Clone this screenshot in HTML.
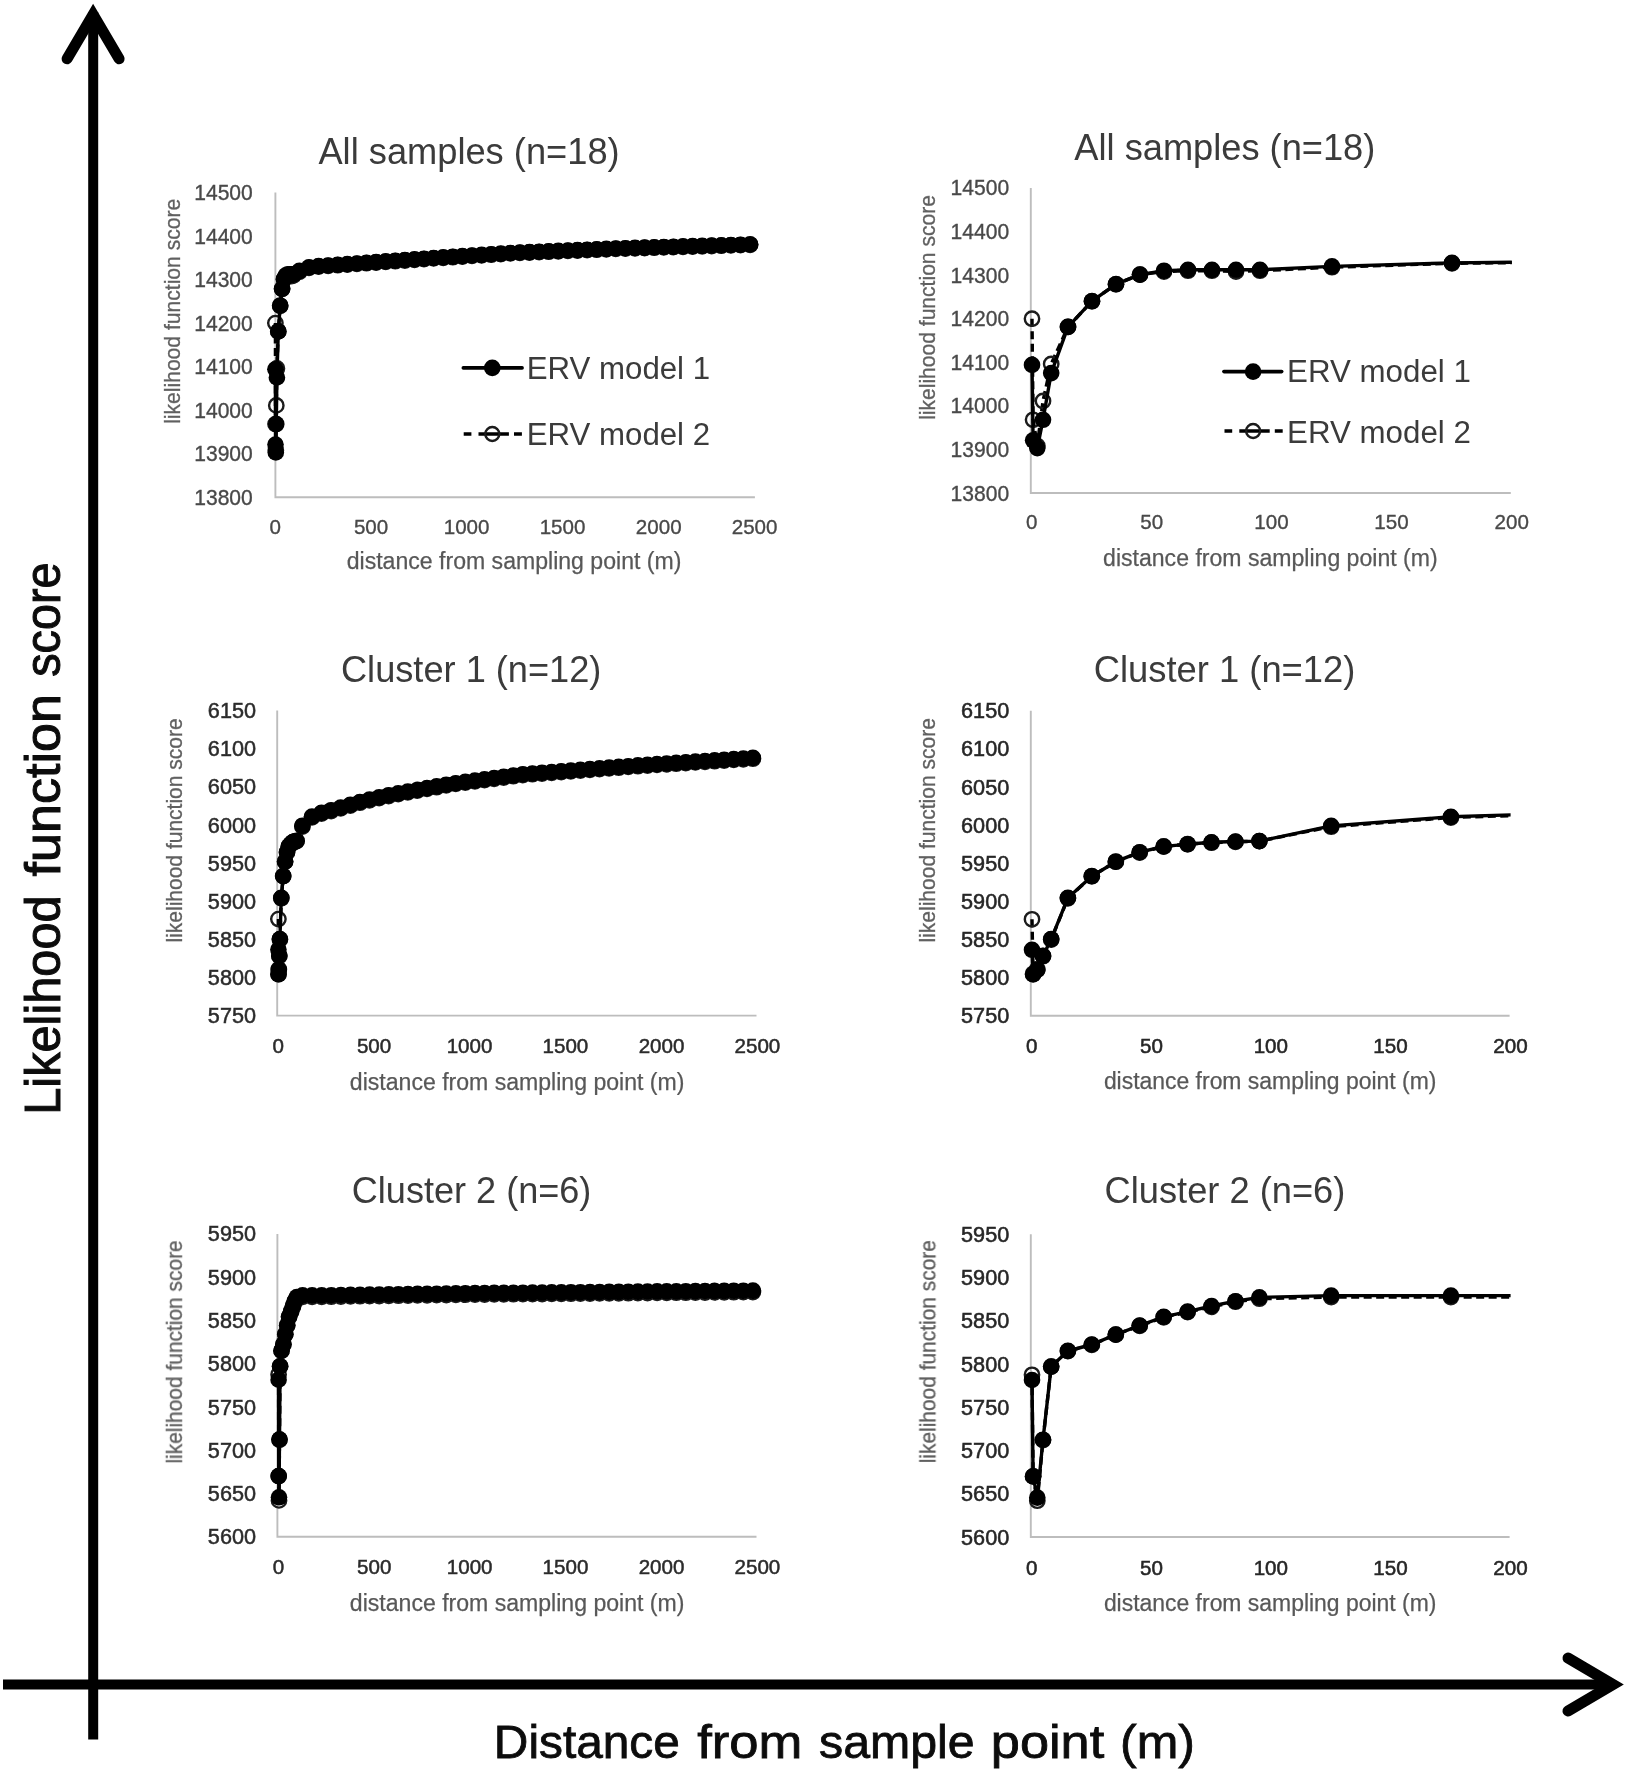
<!DOCTYPE html>
<html lang="en"><head><meta charset="utf-8"><title>Likelihood function score vs distance from sample point</title>
<style>html,body{margin:0;padding:0;background:#fff}body{width:1628px;height:1772px;overflow:hidden}svg{display:block}text{font-family:'Liberation Sans',sans-serif}</style>
</head><body>
<svg width="1628" height="1772" viewBox="0 0 1628 1772" role="img" aria-label="Likelihood function score versus distance from sample point">
<rect width="1628" height="1772" fill="#fff"/>
<defs><filter id="soft" x="-2%" y="-2%" width="104%" height="104%"><feGaussianBlur stdDeviation="0.7"/></filter></defs>
<g id="charts" filter="url(#soft)">
<g id="panel1">
<path d="M275.4 192.6V497.2H754.9" fill="none" stroke="#bdbdbd" stroke-width="1.9"/>
<text x="318.40" y="163.90" font-size="36" fill="#3a3a3a" textLength="301.25" lengthAdjust="spacingAndGlyphs">All samples (n=18)</text>
<text x="194.26" y="200.17" font-size="22" fill="#484848" textLength="58.55" lengthAdjust="spacingAndGlyphs" stroke="#484848" stroke-width="0.35">14500</text>
<text x="194.26" y="243.68" font-size="22" fill="#484848" textLength="58.55" lengthAdjust="spacingAndGlyphs" stroke="#484848" stroke-width="0.35">14400</text>
<text x="194.26" y="287.20" font-size="22" fill="#484848" textLength="58.55" lengthAdjust="spacingAndGlyphs" stroke="#484848" stroke-width="0.35">14300</text>
<text x="194.26" y="330.71" font-size="22" fill="#484848" textLength="58.55" lengthAdjust="spacingAndGlyphs" stroke="#484848" stroke-width="0.35">14200</text>
<text x="194.26" y="374.23" font-size="22" fill="#484848" textLength="58.55" lengthAdjust="spacingAndGlyphs" stroke="#484848" stroke-width="0.35">14100</text>
<text x="194.26" y="417.74" font-size="22" fill="#484848" textLength="58.55" lengthAdjust="spacingAndGlyphs" stroke="#484848" stroke-width="0.35">14000</text>
<text x="194.26" y="461.25" font-size="22" fill="#484848" textLength="58.55" lengthAdjust="spacingAndGlyphs" stroke="#484848" stroke-width="0.35">13900</text>
<text x="194.26" y="504.77" font-size="22" fill="#484848" textLength="58.55" lengthAdjust="spacingAndGlyphs" stroke="#484848" stroke-width="0.35">13800</text>
<text x="269.49" y="533.72" font-size="21" fill="#484848" textLength="11.45" lengthAdjust="spacingAndGlyphs" stroke="#484848" stroke-width="0.35">0</text>
<text x="353.92" y="533.72" font-size="21" fill="#484848" textLength="34.34" lengthAdjust="spacingAndGlyphs" stroke="#484848" stroke-width="0.35">500</text>
<text x="443.74" y="533.72" font-size="21" fill="#484848" textLength="45.78" lengthAdjust="spacingAndGlyphs" stroke="#484848" stroke-width="0.35">1000</text>
<text x="539.64" y="533.72" font-size="21" fill="#484848" textLength="45.78" lengthAdjust="spacingAndGlyphs" stroke="#484848" stroke-width="0.35">1500</text>
<text x="635.80" y="533.72" font-size="21" fill="#484848" textLength="45.78" lengthAdjust="spacingAndGlyphs" stroke="#484848" stroke-width="0.35">2000</text>
<text x="731.70" y="533.72" font-size="21" fill="#484848" textLength="45.78" lengthAdjust="spacingAndGlyphs" stroke="#484848" stroke-width="0.35">2500</text>
<text x="346.68" y="569.40" font-size="23" fill="#585858" textLength="334.73" lengthAdjust="spacingAndGlyphs" stroke="#585858" stroke-width="0.25">distance from sampling point (m)</text>
<text transform="translate(180.10 422.50) rotate(-90)" x="-1.37" y="0" font-size="21.3" fill="#606060" textLength="225.08" lengthAdjust="spacingAndGlyphs" stroke="#606060" stroke-width="0.3">likelihood function score</text>
<clipPath id="clip0"><rect x="263.4" y="180.6" width="519.5" height="328.6"/></clipPath>
<g clip-path="url(#clip0)">
<polyline points="275.4,323.1 275.5,424.1 275.8,450.2 276.3,405.4 276.9,368.4 278.3,331.4 280.2,305.7 282.1,288.8 284.0,279.2 285.9,276.1 287.9,275.3 289.8,275.3 291.7,276.1 293.6,275.3 299.4,271.8 309.0,267.9 318.6,266.6 328.1,265.9 337.7,265.2 347.3,264.6 356.9,263.9 366.5,263.2 376.1,262.5 385.7,261.8 395.3,261.2 404.9,260.5 414.5,259.8 424.0,259.1 433.6,258.4 443.2,257.8 452.8,257.2 462.4,256.6 472.0,255.9 481.6,255.3 491.2,254.7 500.8,254.1 510.4,253.4 519.9,252.9 529.5,252.5 539.1,252.1 548.7,251.7 558.3,251.3 567.9,250.9 577.5,250.5 587.1,250.1 596.7,249.7 606.3,249.3 615.8,248.9 625.4,248.6 635.0,248.3 644.6,248.0 654.2,247.7 663.8,247.4 673.4,247.1 683.0,246.9 692.6,246.6 702.2,246.3 711.7,246.0 721.3,245.7 730.9,245.4 740.5,245.1 750.1,244.8" fill="none" stroke="#000" stroke-width="3.4" stroke-dasharray="8 4.5" stroke-linejoin="round"/>
<g fill="none" stroke="#1a1a1a" stroke-width="2.4">
<circle cx="275.4" cy="323.1" r="7.2"/>
<circle cx="275.5" cy="424.1" r="7.2"/>
<circle cx="275.8" cy="450.2" r="7.2"/>
<circle cx="276.3" cy="405.4" r="7.2"/>
<circle cx="276.9" cy="368.4" r="7.2"/>
<circle cx="278.3" cy="331.4" r="7.2"/>
<circle cx="280.2" cy="305.7" r="7.2"/>
<circle cx="282.1" cy="288.8" r="7.2"/>
<circle cx="284.0" cy="279.2" r="7.2"/>
<circle cx="285.9" cy="276.1" r="7.2"/>
<circle cx="287.9" cy="275.3" r="7.2"/>
<circle cx="289.8" cy="275.3" r="7.2"/>
<circle cx="291.7" cy="276.1" r="7.2"/>
<circle cx="293.6" cy="275.3" r="7.2"/>
<circle cx="299.4" cy="271.8" r="7.2"/>
<circle cx="309.0" cy="267.9" r="7.2"/>
<circle cx="318.6" cy="266.6" r="7.2"/>
<circle cx="328.1" cy="265.9" r="7.2"/>
<circle cx="337.7" cy="265.2" r="7.2"/>
<circle cx="347.3" cy="264.6" r="7.2"/>
<circle cx="356.9" cy="263.9" r="7.2"/>
<circle cx="366.5" cy="263.2" r="7.2"/>
<circle cx="376.1" cy="262.5" r="7.2"/>
<circle cx="385.7" cy="261.8" r="7.2"/>
<circle cx="395.3" cy="261.2" r="7.2"/>
<circle cx="404.9" cy="260.5" r="7.2"/>
<circle cx="414.5" cy="259.8" r="7.2"/>
<circle cx="424.0" cy="259.1" r="7.2"/>
<circle cx="433.6" cy="258.4" r="7.2"/>
<circle cx="443.2" cy="257.8" r="7.2"/>
<circle cx="452.8" cy="257.2" r="7.2"/>
<circle cx="462.4" cy="256.6" r="7.2"/>
<circle cx="472.0" cy="255.9" r="7.2"/>
<circle cx="481.6" cy="255.3" r="7.2"/>
<circle cx="491.2" cy="254.7" r="7.2"/>
<circle cx="500.8" cy="254.1" r="7.2"/>
<circle cx="510.4" cy="253.4" r="7.2"/>
<circle cx="519.9" cy="252.9" r="7.2"/>
<circle cx="529.5" cy="252.5" r="7.2"/>
<circle cx="539.1" cy="252.1" r="7.2"/>
<circle cx="548.7" cy="251.7" r="7.2"/>
<circle cx="558.3" cy="251.3" r="7.2"/>
<circle cx="567.9" cy="250.9" r="7.2"/>
<circle cx="577.5" cy="250.5" r="7.2"/>
<circle cx="587.1" cy="250.1" r="7.2"/>
<circle cx="596.7" cy="249.7" r="7.2"/>
<circle cx="606.3" cy="249.3" r="7.2"/>
<circle cx="615.8" cy="248.9" r="7.2"/>
<circle cx="625.4" cy="248.6" r="7.2"/>
<circle cx="635.0" cy="248.3" r="7.2"/>
<circle cx="644.6" cy="248.0" r="7.2"/>
<circle cx="654.2" cy="247.7" r="7.2"/>
<circle cx="663.8" cy="247.4" r="7.2"/>
<circle cx="673.4" cy="247.1" r="7.2"/>
<circle cx="683.0" cy="246.9" r="7.2"/>
<circle cx="692.6" cy="246.6" r="7.2"/>
<circle cx="702.2" cy="246.3" r="7.2"/>
<circle cx="711.7" cy="246.0" r="7.2"/>
<circle cx="721.3" cy="245.7" r="7.2"/>
<circle cx="730.9" cy="245.4" r="7.2"/>
<circle cx="740.5" cy="245.1" r="7.2"/>
<circle cx="750.1" cy="244.8" r="7.2"/>
</g>
<polyline points="275.4,369.3 275.5,444.5 275.8,452.4 276.3,424.1 276.9,377.5 278.3,331.4 280.2,305.7 282.1,288.8 284.0,279.2 285.9,275.3 287.9,274.4 289.8,274.4 291.7,274.4 293.6,274.4 299.4,270.9 309.0,267.4 318.6,266.1 328.1,265.5 337.7,264.8 347.3,264.1 356.9,263.5 366.5,262.8 376.1,262.1 385.7,261.4 395.3,260.7 404.9,260.0 414.5,259.3 424.0,258.7 433.6,258.0 443.2,257.4 452.8,256.7 462.4,256.1 472.0,255.5 481.6,254.9 491.2,254.2 500.8,253.6 510.4,253.0 519.9,252.5 529.5,252.1 539.1,251.7 548.7,251.3 558.3,250.9 567.9,250.5 577.5,250.1 587.1,249.7 596.7,249.3 606.3,248.9 615.8,248.5 625.4,248.2 635.0,247.9 644.6,247.6 654.2,247.3 663.8,247.0 673.4,246.7 683.0,246.4 692.6,246.1 702.2,245.8 711.7,245.5 721.3,245.3 730.9,245.0 740.5,244.7 750.1,244.4" fill="none" stroke="#000" stroke-width="3.4" stroke-linejoin="round"/>
<g fill="#000">
<circle cx="275.4" cy="369.3" r="8.3"/>
<circle cx="275.5" cy="444.5" r="8.3"/>
<circle cx="275.8" cy="452.4" r="8.3"/>
<circle cx="276.3" cy="424.1" r="8.3"/>
<circle cx="276.9" cy="377.5" r="8.3"/>
<circle cx="278.3" cy="331.4" r="8.3"/>
<circle cx="280.2" cy="305.7" r="8.3"/>
<circle cx="282.1" cy="288.8" r="8.3"/>
<circle cx="284.0" cy="279.2" r="8.3"/>
<circle cx="285.9" cy="275.3" r="8.3"/>
<circle cx="287.9" cy="274.4" r="8.3"/>
<circle cx="289.8" cy="274.4" r="8.3"/>
<circle cx="291.7" cy="274.4" r="8.3"/>
<circle cx="293.6" cy="274.4" r="8.3"/>
<circle cx="299.4" cy="270.9" r="8.3"/>
<circle cx="309.0" cy="267.4" r="8.3"/>
<circle cx="318.6" cy="266.1" r="8.3"/>
<circle cx="328.1" cy="265.5" r="8.3"/>
<circle cx="337.7" cy="264.8" r="8.3"/>
<circle cx="347.3" cy="264.1" r="8.3"/>
<circle cx="356.9" cy="263.5" r="8.3"/>
<circle cx="366.5" cy="262.8" r="8.3"/>
<circle cx="376.1" cy="262.1" r="8.3"/>
<circle cx="385.7" cy="261.4" r="8.3"/>
<circle cx="395.3" cy="260.7" r="8.3"/>
<circle cx="404.9" cy="260.0" r="8.3"/>
<circle cx="414.5" cy="259.3" r="8.3"/>
<circle cx="424.0" cy="258.7" r="8.3"/>
<circle cx="433.6" cy="258.0" r="8.3"/>
<circle cx="443.2" cy="257.4" r="8.3"/>
<circle cx="452.8" cy="256.7" r="8.3"/>
<circle cx="462.4" cy="256.1" r="8.3"/>
<circle cx="472.0" cy="255.5" r="8.3"/>
<circle cx="481.6" cy="254.9" r="8.3"/>
<circle cx="491.2" cy="254.2" r="8.3"/>
<circle cx="500.8" cy="253.6" r="8.3"/>
<circle cx="510.4" cy="253.0" r="8.3"/>
<circle cx="519.9" cy="252.5" r="8.3"/>
<circle cx="529.5" cy="252.1" r="8.3"/>
<circle cx="539.1" cy="251.7" r="8.3"/>
<circle cx="548.7" cy="251.3" r="8.3"/>
<circle cx="558.3" cy="250.9" r="8.3"/>
<circle cx="567.9" cy="250.5" r="8.3"/>
<circle cx="577.5" cy="250.1" r="8.3"/>
<circle cx="587.1" cy="249.7" r="8.3"/>
<circle cx="596.7" cy="249.3" r="8.3"/>
<circle cx="606.3" cy="248.9" r="8.3"/>
<circle cx="615.8" cy="248.5" r="8.3"/>
<circle cx="625.4" cy="248.2" r="8.3"/>
<circle cx="635.0" cy="247.9" r="8.3"/>
<circle cx="644.6" cy="247.6" r="8.3"/>
<circle cx="654.2" cy="247.3" r="8.3"/>
<circle cx="663.8" cy="247.0" r="8.3"/>
<circle cx="673.4" cy="246.7" r="8.3"/>
<circle cx="683.0" cy="246.4" r="8.3"/>
<circle cx="692.6" cy="246.1" r="8.3"/>
<circle cx="702.2" cy="245.8" r="8.3"/>
<circle cx="711.7" cy="245.5" r="8.3"/>
<circle cx="721.3" cy="245.3" r="8.3"/>
<circle cx="730.9" cy="245.0" r="8.3"/>
<circle cx="740.5" cy="244.7" r="8.3"/>
<circle cx="750.1" cy="244.4" r="8.3"/>
</g>
</g>
<line x1="463.3" y1="367.9" x2="522.1" y2="367.9" stroke="#000" stroke-width="3.6" stroke-linecap="round"/>
<circle cx="492.3" cy="367.9" r="8.3" fill="#000"/>
<path d="M463.7 434H471.4 M478.5 434H508.9 M514.0 434H521.9" fill="none" stroke="#000" stroke-width="3.5"/>
<circle cx="492.3" cy="434" r="7.0" fill="none" stroke="#1a1a1a" stroke-width="2.4"/>
<text x="526.70" y="379.30" font-size="30.8" fill="#3a3a3a" textLength="183.42" lengthAdjust="spacingAndGlyphs">ERV model 1</text>
<text x="526.70" y="445.00" font-size="30.8" fill="#3a3a3a" textLength="183.42" lengthAdjust="spacingAndGlyphs">ERV model 2</text>
</g>
<g id="panel2">
<path d="M1030.8 187.9V493.0H1510.8" fill="none" stroke="#bdbdbd" stroke-width="1.9"/>
<text x="1074.30" y="159.70" font-size="36" fill="#3a3a3a" textLength="301.05" lengthAdjust="spacingAndGlyphs">All samples (n=18)</text>
<text x="950.56" y="195.47" font-size="22" fill="#484848" textLength="58.55" lengthAdjust="spacingAndGlyphs" stroke="#484848" stroke-width="0.35">14500</text>
<text x="950.56" y="239.05" font-size="22" fill="#484848" textLength="58.55" lengthAdjust="spacingAndGlyphs" stroke="#484848" stroke-width="0.35">14400</text>
<text x="950.56" y="282.64" font-size="22" fill="#484848" textLength="58.55" lengthAdjust="spacingAndGlyphs" stroke="#484848" stroke-width="0.35">14300</text>
<text x="950.56" y="326.23" font-size="22" fill="#484848" textLength="58.55" lengthAdjust="spacingAndGlyphs" stroke="#484848" stroke-width="0.35">14200</text>
<text x="950.56" y="369.81" font-size="22" fill="#484848" textLength="58.55" lengthAdjust="spacingAndGlyphs" stroke="#484848" stroke-width="0.35">14100</text>
<text x="950.56" y="413.40" font-size="22" fill="#484848" textLength="58.55" lengthAdjust="spacingAndGlyphs" stroke="#484848" stroke-width="0.35">14000</text>
<text x="950.56" y="456.98" font-size="22" fill="#484848" textLength="58.55" lengthAdjust="spacingAndGlyphs" stroke="#484848" stroke-width="0.35">13900</text>
<text x="950.56" y="500.57" font-size="22" fill="#484848" textLength="58.55" lengthAdjust="spacingAndGlyphs" stroke="#484848" stroke-width="0.35">13800</text>
<text x="1026.09" y="529.42" font-size="21" fill="#484848" textLength="11.45" lengthAdjust="spacingAndGlyphs" stroke="#484848" stroke-width="0.35">0</text>
<text x="1140.35" y="529.42" font-size="21" fill="#484848" textLength="22.89" lengthAdjust="spacingAndGlyphs" stroke="#484848" stroke-width="0.35">50</text>
<text x="1254.26" y="529.42" font-size="21" fill="#484848" textLength="34.34" lengthAdjust="spacingAndGlyphs" stroke="#484848" stroke-width="0.35">100</text>
<text x="1374.26" y="529.42" font-size="21" fill="#484848" textLength="34.34" lengthAdjust="spacingAndGlyphs" stroke="#484848" stroke-width="0.35">150</text>
<text x="1494.51" y="529.42" font-size="21" fill="#484848" textLength="34.34" lengthAdjust="spacingAndGlyphs" stroke="#484848" stroke-width="0.35">200</text>
<text x="1103.08" y="565.80" font-size="23" fill="#585858" textLength="334.53" lengthAdjust="spacingAndGlyphs" stroke="#585858" stroke-width="0.25">distance from sampling point (m)</text>
<text transform="translate(934.60 418.50) rotate(-90)" x="-1.37" y="0" font-size="21.3" fill="#606060" textLength="224.78" lengthAdjust="spacingAndGlyphs" stroke="#606060" stroke-width="0.3">likelihood function score</text>
<clipPath id="clip1"><rect x="1018.8" y="175.9" width="493.0" height="329.1"/></clipPath>
<g clip-path="url(#clip1)">
<polyline points="1032.0,318.7 1033.1,419.8 1037.3,445.9 1043.0,401.0 1051.2,364.0 1068.0,326.9 1092.0,301.2 1116.0,284.2 1140.0,274.6 1164.0,271.6 1188.0,270.7 1212.0,270.7 1236.0,271.6 1260.0,270.7 1332.0,267.2 1452.0,263.3 1572.0,262.0" fill="none" stroke="#000" stroke-width="3.4" stroke-dasharray="8 4.5" stroke-linejoin="round"/>
<g fill="none" stroke="#1a1a1a" stroke-width="2.4">
<circle cx="1032.0" cy="318.7" r="7.2"/>
<circle cx="1033.1" cy="419.8" r="7.2"/>
<circle cx="1037.3" cy="445.9" r="7.2"/>
<circle cx="1043.0" cy="401.0" r="7.2"/>
<circle cx="1051.2" cy="364.0" r="7.2"/>
<circle cx="1068.0" cy="326.9" r="7.2"/>
<circle cx="1092.0" cy="301.2" r="7.2"/>
<circle cx="1116.0" cy="284.2" r="7.2"/>
<circle cx="1140.0" cy="274.6" r="7.2"/>
<circle cx="1164.0" cy="271.6" r="7.2"/>
<circle cx="1188.0" cy="270.7" r="7.2"/>
<circle cx="1212.0" cy="270.7" r="7.2"/>
<circle cx="1236.0" cy="271.6" r="7.2"/>
<circle cx="1260.0" cy="270.7" r="7.2"/>
<circle cx="1332.0" cy="267.2" r="7.2"/>
<circle cx="1452.0" cy="263.3" r="7.2"/>
</g>
<polyline points="1032.0,364.9 1033.1,440.3 1037.3,448.1 1043.0,419.8 1051.2,373.1 1068.0,326.9 1092.0,301.2 1116.0,284.2 1140.0,274.6 1164.0,270.7 1188.0,269.8 1212.0,269.8 1236.0,269.8 1260.0,269.8 1332.0,266.4 1452.0,262.9 1572.0,261.6" fill="none" stroke="#000" stroke-width="3.4" stroke-linejoin="round"/>
<g fill="#000">
<circle cx="1032.0" cy="364.9" r="8.3"/>
<circle cx="1033.1" cy="440.3" r="8.3"/>
<circle cx="1037.3" cy="448.1" r="8.3"/>
<circle cx="1043.0" cy="419.8" r="8.3"/>
<circle cx="1051.2" cy="373.1" r="8.3"/>
<circle cx="1068.0" cy="326.9" r="8.3"/>
<circle cx="1092.0" cy="301.2" r="8.3"/>
<circle cx="1116.0" cy="284.2" r="8.3"/>
<circle cx="1140.0" cy="274.6" r="8.3"/>
<circle cx="1164.0" cy="270.7" r="8.3"/>
<circle cx="1188.0" cy="269.8" r="8.3"/>
<circle cx="1212.0" cy="269.8" r="8.3"/>
<circle cx="1236.0" cy="269.8" r="8.3"/>
<circle cx="1260.0" cy="269.8" r="8.3"/>
<circle cx="1332.0" cy="266.4" r="8.3"/>
<circle cx="1452.0" cy="262.9" r="8.3"/>
</g>
</g>
<line x1="1223.9" y1="371.6" x2="1281.7" y2="371.6" stroke="#000" stroke-width="3.6" stroke-linecap="round"/>
<circle cx="1253.1" cy="371.6" r="8.3" fill="#000"/>
<path d="M1224.5 431H1232.2 M1239.3 431H1269.7 M1274.8 431H1282.7" fill="none" stroke="#000" stroke-width="3.5"/>
<circle cx="1253.1" cy="431" r="7.0" fill="none" stroke="#1a1a1a" stroke-width="2.4"/>
<text x="1287.10" y="381.80" font-size="30.8" fill="#3a3a3a" textLength="183.73" lengthAdjust="spacingAndGlyphs">ERV model 1</text>
<text x="1287.10" y="442.60" font-size="30.8" fill="#3a3a3a" textLength="183.73" lengthAdjust="spacingAndGlyphs">ERV model 2</text>
</g>
<g id="panel3">
<path d="M277.2 710.6V1015.6H756.5" fill="none" stroke="#bdbdbd" stroke-width="1.9"/>
<text x="340.99" y="681.90" font-size="36" fill="#3a3a3a" textLength="260.40" lengthAdjust="spacingAndGlyphs">Cluster 1 (n=12)</text>
<text x="207.85" y="718.17" font-size="22" fill="#2c2c2c" textLength="48.21" lengthAdjust="spacingAndGlyphs" stroke="#2c2c2c" stroke-width="0.5">6150</text>
<text x="207.85" y="756.29" font-size="22" fill="#2c2c2c" textLength="48.21" lengthAdjust="spacingAndGlyphs" stroke="#2c2c2c" stroke-width="0.5">6100</text>
<text x="207.85" y="794.42" font-size="22" fill="#2c2c2c" textLength="48.21" lengthAdjust="spacingAndGlyphs" stroke="#2c2c2c" stroke-width="0.5">6050</text>
<text x="207.85" y="832.54" font-size="22" fill="#2c2c2c" textLength="48.21" lengthAdjust="spacingAndGlyphs" stroke="#2c2c2c" stroke-width="0.5">6000</text>
<text x="207.85" y="870.67" font-size="22" fill="#2c2c2c" textLength="48.21" lengthAdjust="spacingAndGlyphs" stroke="#2c2c2c" stroke-width="0.5">5950</text>
<text x="207.85" y="908.79" font-size="22" fill="#2c2c2c" textLength="48.21" lengthAdjust="spacingAndGlyphs" stroke="#2c2c2c" stroke-width="0.5">5900</text>
<text x="207.85" y="946.92" font-size="22" fill="#2c2c2c" textLength="48.21" lengthAdjust="spacingAndGlyphs" stroke="#2c2c2c" stroke-width="0.5">5850</text>
<text x="207.85" y="985.04" font-size="22" fill="#2c2c2c" textLength="48.21" lengthAdjust="spacingAndGlyphs" stroke="#2c2c2c" stroke-width="0.5">5800</text>
<text x="207.85" y="1023.17" font-size="22" fill="#2c2c2c" textLength="48.21" lengthAdjust="spacingAndGlyphs" stroke="#2c2c2c" stroke-width="0.5">5750</text>
<text x="272.49" y="1052.52" font-size="21" fill="#2c2c2c" textLength="11.45" lengthAdjust="spacingAndGlyphs" stroke="#2c2c2c" stroke-width="0.5">0</text>
<text x="356.88" y="1052.52" font-size="21" fill="#2c2c2c" textLength="34.34" lengthAdjust="spacingAndGlyphs" stroke="#2c2c2c" stroke-width="0.5">500</text>
<text x="446.66" y="1052.52" font-size="21" fill="#2c2c2c" textLength="45.78" lengthAdjust="spacingAndGlyphs" stroke="#2c2c2c" stroke-width="0.5">1000</text>
<text x="542.52" y="1052.52" font-size="21" fill="#2c2c2c" textLength="45.78" lengthAdjust="spacingAndGlyphs" stroke="#2c2c2c" stroke-width="0.5">1500</text>
<text x="638.64" y="1052.52" font-size="21" fill="#2c2c2c" textLength="45.78" lengthAdjust="spacingAndGlyphs" stroke="#2c2c2c" stroke-width="0.5">2000</text>
<text x="734.50" y="1052.52" font-size="21" fill="#2c2c2c" textLength="45.78" lengthAdjust="spacingAndGlyphs" stroke="#2c2c2c" stroke-width="0.5">2500</text>
<text x="349.88" y="1089.60" font-size="23" fill="#585858" textLength="334.53" lengthAdjust="spacingAndGlyphs" stroke="#585858" stroke-width="0.25">distance from sampling point (m)</text>
<text transform="translate(181.90 941.20) rotate(-90)" x="-1.37" y="0" font-size="21.3" fill="#606060" textLength="224.27" lengthAdjust="spacingAndGlyphs" stroke="#606060" stroke-width="0.3">likelihood function score</text>
<clipPath id="clip2"><rect x="265.2" y="698.6" width="519.3" height="329.0"/></clipPath>
<g clip-path="url(#clip2)">
<polyline points="278.4,919.1 278.5,973.7 278.8,969.1 279.3,956.1 279.9,939.4 281.3,898.2 283.2,876.1 285.1,861.6 287.0,852.4 288.9,846.3 290.9,844.0 292.8,842.5 294.7,841.8 296.6,841.0 302.4,826.5 312.0,817.4 321.5,813.5 331.1,811.0 340.7,808.3 350.3,805.5 359.9,802.7 369.5,800.3 379.1,798.1 388.6,796.0 398.2,794.1 407.8,792.4 417.4,790.6 427.0,788.9 436.6,787.2 446.2,785.4 455.7,783.9 465.3,782.6 474.9,781.4 484.5,780.1 494.1,778.8 503.7,777.5 513.3,776.2 522.8,775.0 532.4,774.2 542.0,773.5 551.6,772.8 561.2,772.0 570.8,771.3 580.4,770.6 589.9,769.9 599.5,769.1 609.1,768.4 618.7,767.7 628.3,766.9 637.9,766.2 647.5,765.5 657.0,764.9 666.6,764.3 676.2,763.7 685.8,763.0 695.4,762.4 705.0,761.8 714.6,761.2 724.1,760.5 733.7,759.9 743.3,759.3 752.9,758.7" fill="none" stroke="#000" stroke-width="3.4" stroke-dasharray="8 4.5" stroke-linejoin="round"/>
<g fill="none" stroke="#1a1a1a" stroke-width="2.4">
<circle cx="278.4" cy="919.1" r="7.2"/>
<circle cx="278.5" cy="973.7" r="7.2"/>
<circle cx="278.8" cy="969.1" r="7.2"/>
<circle cx="279.3" cy="956.1" r="7.2"/>
<circle cx="279.9" cy="939.4" r="7.2"/>
<circle cx="281.3" cy="898.2" r="7.2"/>
<circle cx="283.2" cy="876.1" r="7.2"/>
<circle cx="285.1" cy="861.6" r="7.2"/>
<circle cx="287.0" cy="852.4" r="7.2"/>
<circle cx="288.9" cy="846.3" r="7.2"/>
<circle cx="290.9" cy="844.0" r="7.2"/>
<circle cx="292.8" cy="842.5" r="7.2"/>
<circle cx="294.7" cy="841.8" r="7.2"/>
<circle cx="296.6" cy="841.0" r="7.2"/>
<circle cx="302.4" cy="826.5" r="7.2"/>
<circle cx="312.0" cy="817.4" r="7.2"/>
<circle cx="321.5" cy="813.5" r="7.2"/>
<circle cx="331.1" cy="811.0" r="7.2"/>
<circle cx="340.7" cy="808.3" r="7.2"/>
<circle cx="350.3" cy="805.5" r="7.2"/>
<circle cx="359.9" cy="802.7" r="7.2"/>
<circle cx="369.5" cy="800.3" r="7.2"/>
<circle cx="379.1" cy="798.1" r="7.2"/>
<circle cx="388.6" cy="796.0" r="7.2"/>
<circle cx="398.2" cy="794.1" r="7.2"/>
<circle cx="407.8" cy="792.4" r="7.2"/>
<circle cx="417.4" cy="790.6" r="7.2"/>
<circle cx="427.0" cy="788.9" r="7.2"/>
<circle cx="436.6" cy="787.2" r="7.2"/>
<circle cx="446.2" cy="785.4" r="7.2"/>
<circle cx="455.7" cy="783.9" r="7.2"/>
<circle cx="465.3" cy="782.6" r="7.2"/>
<circle cx="474.9" cy="781.4" r="7.2"/>
<circle cx="484.5" cy="780.1" r="7.2"/>
<circle cx="494.1" cy="778.8" r="7.2"/>
<circle cx="503.7" cy="777.5" r="7.2"/>
<circle cx="513.3" cy="776.2" r="7.2"/>
<circle cx="522.8" cy="775.0" r="7.2"/>
<circle cx="532.4" cy="774.2" r="7.2"/>
<circle cx="542.0" cy="773.5" r="7.2"/>
<circle cx="551.6" cy="772.8" r="7.2"/>
<circle cx="561.2" cy="772.0" r="7.2"/>
<circle cx="570.8" cy="771.3" r="7.2"/>
<circle cx="580.4" cy="770.6" r="7.2"/>
<circle cx="589.9" cy="769.9" r="7.2"/>
<circle cx="599.5" cy="769.1" r="7.2"/>
<circle cx="609.1" cy="768.4" r="7.2"/>
<circle cx="618.7" cy="767.7" r="7.2"/>
<circle cx="628.3" cy="766.9" r="7.2"/>
<circle cx="637.9" cy="766.2" r="7.2"/>
<circle cx="647.5" cy="765.5" r="7.2"/>
<circle cx="657.0" cy="764.9" r="7.2"/>
<circle cx="666.6" cy="764.3" r="7.2"/>
<circle cx="676.2" cy="763.7" r="7.2"/>
<circle cx="685.8" cy="763.0" r="7.2"/>
<circle cx="695.4" cy="762.4" r="7.2"/>
<circle cx="705.0" cy="761.8" r="7.2"/>
<circle cx="714.6" cy="761.2" r="7.2"/>
<circle cx="724.1" cy="760.5" r="7.2"/>
<circle cx="733.7" cy="759.9" r="7.2"/>
<circle cx="743.3" cy="759.3" r="7.2"/>
<circle cx="752.9" cy="758.7" r="7.2"/>
</g>
<polyline points="278.4,949.6 278.5,974.4 278.8,969.9 279.3,955.7 279.9,939.0 281.3,897.8 283.2,876.1 285.1,861.6 287.0,852.0 288.9,846.3 290.9,844.0 292.8,842.1 294.7,841.4 296.6,841.0 302.4,825.7 312.0,816.6 321.5,812.8 331.1,810.2 340.7,807.6 350.3,804.8 359.9,802.0 369.5,799.5 379.1,797.4 388.6,795.2 398.2,793.4 407.8,791.6 417.4,789.9 427.0,788.1 436.6,786.4 446.2,784.7 455.7,783.2 465.3,781.9 474.9,780.6 484.5,779.3 494.1,778.0 503.7,776.7 513.3,775.5 522.8,774.2 532.4,773.5 542.0,772.7 551.6,772.0 561.2,771.3 570.8,770.6 580.4,769.8 589.9,769.1 599.5,768.4 609.1,767.6 618.7,766.9 628.3,766.2 637.9,765.4 647.5,764.8 657.0,764.1 666.6,763.5 676.2,762.9 685.8,762.3 695.4,761.6 705.0,761.0 714.6,760.4 724.1,759.8 733.7,759.1 743.3,758.5 752.9,757.9" fill="none" stroke="#000" stroke-width="3.4" stroke-linejoin="round"/>
<g fill="#000">
<circle cx="278.4" cy="949.6" r="8.3"/>
<circle cx="278.5" cy="974.4" r="8.3"/>
<circle cx="278.8" cy="969.9" r="8.3"/>
<circle cx="279.3" cy="955.7" r="8.3"/>
<circle cx="279.9" cy="939.0" r="8.3"/>
<circle cx="281.3" cy="897.8" r="8.3"/>
<circle cx="283.2" cy="876.1" r="8.3"/>
<circle cx="285.1" cy="861.6" r="8.3"/>
<circle cx="287.0" cy="852.0" r="8.3"/>
<circle cx="288.9" cy="846.3" r="8.3"/>
<circle cx="290.9" cy="844.0" r="8.3"/>
<circle cx="292.8" cy="842.1" r="8.3"/>
<circle cx="294.7" cy="841.4" r="8.3"/>
<circle cx="296.6" cy="841.0" r="8.3"/>
<circle cx="302.4" cy="825.7" r="8.3"/>
<circle cx="312.0" cy="816.6" r="8.3"/>
<circle cx="321.5" cy="812.8" r="8.3"/>
<circle cx="331.1" cy="810.2" r="8.3"/>
<circle cx="340.7" cy="807.6" r="8.3"/>
<circle cx="350.3" cy="804.8" r="8.3"/>
<circle cx="359.9" cy="802.0" r="8.3"/>
<circle cx="369.5" cy="799.5" r="8.3"/>
<circle cx="379.1" cy="797.4" r="8.3"/>
<circle cx="388.6" cy="795.2" r="8.3"/>
<circle cx="398.2" cy="793.4" r="8.3"/>
<circle cx="407.8" cy="791.6" r="8.3"/>
<circle cx="417.4" cy="789.9" r="8.3"/>
<circle cx="427.0" cy="788.1" r="8.3"/>
<circle cx="436.6" cy="786.4" r="8.3"/>
<circle cx="446.2" cy="784.7" r="8.3"/>
<circle cx="455.7" cy="783.2" r="8.3"/>
<circle cx="465.3" cy="781.9" r="8.3"/>
<circle cx="474.9" cy="780.6" r="8.3"/>
<circle cx="484.5" cy="779.3" r="8.3"/>
<circle cx="494.1" cy="778.0" r="8.3"/>
<circle cx="503.7" cy="776.7" r="8.3"/>
<circle cx="513.3" cy="775.5" r="8.3"/>
<circle cx="522.8" cy="774.2" r="8.3"/>
<circle cx="532.4" cy="773.5" r="8.3"/>
<circle cx="542.0" cy="772.7" r="8.3"/>
<circle cx="551.6" cy="772.0" r="8.3"/>
<circle cx="561.2" cy="771.3" r="8.3"/>
<circle cx="570.8" cy="770.6" r="8.3"/>
<circle cx="580.4" cy="769.8" r="8.3"/>
<circle cx="589.9" cy="769.1" r="8.3"/>
<circle cx="599.5" cy="768.4" r="8.3"/>
<circle cx="609.1" cy="767.6" r="8.3"/>
<circle cx="618.7" cy="766.9" r="8.3"/>
<circle cx="628.3" cy="766.2" r="8.3"/>
<circle cx="637.9" cy="765.4" r="8.3"/>
<circle cx="647.5" cy="764.8" r="8.3"/>
<circle cx="657.0" cy="764.1" r="8.3"/>
<circle cx="666.6" cy="763.5" r="8.3"/>
<circle cx="676.2" cy="762.9" r="8.3"/>
<circle cx="685.8" cy="762.3" r="8.3"/>
<circle cx="695.4" cy="761.6" r="8.3"/>
<circle cx="705.0" cy="761.0" r="8.3"/>
<circle cx="714.6" cy="760.4" r="8.3"/>
<circle cx="724.1" cy="759.8" r="8.3"/>
<circle cx="733.7" cy="759.1" r="8.3"/>
<circle cx="743.3" cy="758.5" r="8.3"/>
<circle cx="752.9" cy="757.9" r="8.3"/>
</g>
</g>
</g>
<g id="panel4">
<path d="M1030.8 710.8V1015.7H1509.6" fill="none" stroke="#bdbdbd" stroke-width="1.9"/>
<text x="1093.78" y="681.90" font-size="36" fill="#3a3a3a" textLength="261.62" lengthAdjust="spacingAndGlyphs">Cluster 1 (n=12)</text>
<text x="961.05" y="718.37" font-size="22" fill="#262626" textLength="48.21" lengthAdjust="spacingAndGlyphs" stroke="#262626" stroke-width="0.55">6150</text>
<text x="961.05" y="756.48" font-size="22" fill="#262626" textLength="48.21" lengthAdjust="spacingAndGlyphs" stroke="#262626" stroke-width="0.55">6100</text>
<text x="961.05" y="794.59" font-size="22" fill="#262626" textLength="48.21" lengthAdjust="spacingAndGlyphs" stroke="#262626" stroke-width="0.55">6050</text>
<text x="961.05" y="832.71" font-size="22" fill="#262626" textLength="48.21" lengthAdjust="spacingAndGlyphs" stroke="#262626" stroke-width="0.55">6000</text>
<text x="961.05" y="870.82" font-size="22" fill="#262626" textLength="48.21" lengthAdjust="spacingAndGlyphs" stroke="#262626" stroke-width="0.55">5950</text>
<text x="961.05" y="908.93" font-size="22" fill="#262626" textLength="48.21" lengthAdjust="spacingAndGlyphs" stroke="#262626" stroke-width="0.55">5900</text>
<text x="961.05" y="947.04" font-size="22" fill="#262626" textLength="48.21" lengthAdjust="spacingAndGlyphs" stroke="#262626" stroke-width="0.55">5850</text>
<text x="961.05" y="985.16" font-size="22" fill="#262626" textLength="48.21" lengthAdjust="spacingAndGlyphs" stroke="#262626" stroke-width="0.55">5800</text>
<text x="961.05" y="1023.27" font-size="22" fill="#262626" textLength="48.21" lengthAdjust="spacingAndGlyphs" stroke="#262626" stroke-width="0.55">5750</text>
<text x="1026.09" y="1052.52" font-size="21" fill="#262626" textLength="11.45" lengthAdjust="spacingAndGlyphs" stroke="#262626" stroke-width="0.55">0</text>
<text x="1140.05" y="1052.52" font-size="21" fill="#262626" textLength="22.89" lengthAdjust="spacingAndGlyphs" stroke="#262626" stroke-width="0.55">50</text>
<text x="1253.66" y="1052.52" font-size="21" fill="#262626" textLength="34.34" lengthAdjust="spacingAndGlyphs" stroke="#262626" stroke-width="0.55">100</text>
<text x="1373.36" y="1052.52" font-size="21" fill="#262626" textLength="34.34" lengthAdjust="spacingAndGlyphs" stroke="#262626" stroke-width="0.55">150</text>
<text x="1493.31" y="1052.52" font-size="21" fill="#262626" textLength="34.34" lengthAdjust="spacingAndGlyphs" stroke="#262626" stroke-width="0.55">200</text>
<text x="1103.88" y="1089.20" font-size="23" fill="#585858" textLength="332.51" lengthAdjust="spacingAndGlyphs" stroke="#585858" stroke-width="0.25">distance from sampling point (m)</text>
<text transform="translate(935.40 941.20) rotate(-90)" x="-1.37" y="0" font-size="21.3" fill="#606060" textLength="224.48" lengthAdjust="spacingAndGlyphs" stroke="#606060" stroke-width="0.3">likelihood function score</text>
<clipPath id="clip3"><rect x="1018.8" y="698.8" width="491.8" height="328.9"/></clipPath>
<g clip-path="url(#clip3)">
<polyline points="1032.0,919.3 1033.1,973.8 1037.3,969.2 1043.0,956.2 1051.2,939.5 1067.9,898.3 1091.8,876.2 1115.8,861.7 1139.7,852.6 1163.7,846.5 1187.6,844.2 1211.5,842.7 1235.5,841.9 1259.4,841.1 1331.2,826.7 1450.9,817.5 1570.7,813.7" fill="none" stroke="#000" stroke-width="3.4" stroke-dasharray="8 4.5" stroke-linejoin="round"/>
<g fill="none" stroke="#1a1a1a" stroke-width="2.4">
<circle cx="1032.0" cy="919.3" r="7.2"/>
<circle cx="1033.1" cy="973.8" r="7.2"/>
<circle cx="1037.3" cy="969.2" r="7.2"/>
<circle cx="1043.0" cy="956.2" r="7.2"/>
<circle cx="1051.2" cy="939.5" r="7.2"/>
<circle cx="1067.9" cy="898.3" r="7.2"/>
<circle cx="1091.8" cy="876.2" r="7.2"/>
<circle cx="1115.8" cy="861.7" r="7.2"/>
<circle cx="1139.7" cy="852.6" r="7.2"/>
<circle cx="1163.7" cy="846.5" r="7.2"/>
<circle cx="1187.6" cy="844.2" r="7.2"/>
<circle cx="1211.5" cy="842.7" r="7.2"/>
<circle cx="1235.5" cy="841.9" r="7.2"/>
<circle cx="1259.4" cy="841.1" r="7.2"/>
<circle cx="1331.2" cy="826.7" r="7.2"/>
<circle cx="1450.9" cy="817.5" r="7.2"/>
</g>
<polyline points="1032.0,949.8 1033.1,974.5 1037.3,970.0 1043.0,955.9 1051.2,939.1 1067.9,897.9 1091.8,876.2 1115.8,861.7 1139.7,852.2 1163.7,846.5 1187.6,844.2 1211.5,842.3 1235.5,841.5 1259.4,841.1 1331.2,825.9 1450.9,816.8 1570.7,812.9" fill="none" stroke="#000" stroke-width="3.4" stroke-linejoin="round"/>
<g fill="#000">
<circle cx="1032.0" cy="949.8" r="8.3"/>
<circle cx="1033.1" cy="974.5" r="8.3"/>
<circle cx="1037.3" cy="970.0" r="8.3"/>
<circle cx="1043.0" cy="955.9" r="8.3"/>
<circle cx="1051.2" cy="939.1" r="8.3"/>
<circle cx="1067.9" cy="897.9" r="8.3"/>
<circle cx="1091.8" cy="876.2" r="8.3"/>
<circle cx="1115.8" cy="861.7" r="8.3"/>
<circle cx="1139.7" cy="852.2" r="8.3"/>
<circle cx="1163.7" cy="846.5" r="8.3"/>
<circle cx="1187.6" cy="844.2" r="8.3"/>
<circle cx="1211.5" cy="842.3" r="8.3"/>
<circle cx="1235.5" cy="841.5" r="8.3"/>
<circle cx="1259.4" cy="841.1" r="8.3"/>
<circle cx="1331.2" cy="825.9" r="8.3"/>
<circle cx="1450.9" cy="816.8" r="8.3"/>
</g>
</g>
</g>
<g id="panel5">
<path d="M277.4 1233.9V1536.7H756.5" fill="none" stroke="#bdbdbd" stroke-width="1.9"/>
<text x="351.80" y="1203.10" font-size="36" fill="#3a3a3a" textLength="239.54" lengthAdjust="spacingAndGlyphs">Cluster 2 (n=6)</text>
<text x="207.85" y="1241.47" font-size="22" fill="#2c2c2c" textLength="48.21" lengthAdjust="spacingAndGlyphs" stroke="#2c2c2c" stroke-width="0.5">5950</text>
<text x="207.85" y="1284.73" font-size="22" fill="#2c2c2c" textLength="48.21" lengthAdjust="spacingAndGlyphs" stroke="#2c2c2c" stroke-width="0.5">5900</text>
<text x="207.85" y="1327.98" font-size="22" fill="#2c2c2c" textLength="48.21" lengthAdjust="spacingAndGlyphs" stroke="#2c2c2c" stroke-width="0.5">5850</text>
<text x="207.85" y="1371.24" font-size="22" fill="#2c2c2c" textLength="48.21" lengthAdjust="spacingAndGlyphs" stroke="#2c2c2c" stroke-width="0.5">5800</text>
<text x="207.85" y="1414.50" font-size="22" fill="#2c2c2c" textLength="48.21" lengthAdjust="spacingAndGlyphs" stroke="#2c2c2c" stroke-width="0.5">5750</text>
<text x="207.85" y="1457.75" font-size="22" fill="#2c2c2c" textLength="48.21" lengthAdjust="spacingAndGlyphs" stroke="#2c2c2c" stroke-width="0.5">5700</text>
<text x="207.85" y="1501.01" font-size="22" fill="#2c2c2c" textLength="48.21" lengthAdjust="spacingAndGlyphs" stroke="#2c2c2c" stroke-width="0.5">5650</text>
<text x="207.85" y="1544.27" font-size="22" fill="#2c2c2c" textLength="48.21" lengthAdjust="spacingAndGlyphs" stroke="#2c2c2c" stroke-width="0.5">5600</text>
<text x="272.69" y="1574.42" font-size="21" fill="#2c2c2c" textLength="11.45" lengthAdjust="spacingAndGlyphs" stroke="#2c2c2c" stroke-width="0.5">0</text>
<text x="357.04" y="1574.42" font-size="21" fill="#2c2c2c" textLength="34.34" lengthAdjust="spacingAndGlyphs" stroke="#2c2c2c" stroke-width="0.5">500</text>
<text x="446.78" y="1574.42" font-size="21" fill="#2c2c2c" textLength="45.78" lengthAdjust="spacingAndGlyphs" stroke="#2c2c2c" stroke-width="0.5">1000</text>
<text x="542.60" y="1574.42" font-size="21" fill="#2c2c2c" textLength="45.78" lengthAdjust="spacingAndGlyphs" stroke="#2c2c2c" stroke-width="0.5">1500</text>
<text x="638.68" y="1574.42" font-size="21" fill="#2c2c2c" textLength="45.78" lengthAdjust="spacingAndGlyphs" stroke="#2c2c2c" stroke-width="0.5">2000</text>
<text x="734.50" y="1574.42" font-size="21" fill="#2c2c2c" textLength="45.78" lengthAdjust="spacingAndGlyphs" stroke="#2c2c2c" stroke-width="0.5">2500</text>
<text x="349.88" y="1611.00" font-size="23" fill="#585858" textLength="334.53" lengthAdjust="spacingAndGlyphs" stroke="#585858" stroke-width="0.25">distance from sampling point (m)</text>
<text transform="translate(181.90 1462.30) rotate(-90)" x="-1.36" y="0" font-size="21.3" fill="#606060" textLength="223.37" lengthAdjust="spacingAndGlyphs" stroke="#606060" stroke-width="0.3">likelihood function score</text>
<clipPath id="clip4"><rect x="265.4" y="1221.9" width="519.1" height="326.8"/></clipPath>
<g clip-path="url(#clip4)">
<polyline points="278.6,1374.5 278.7,1476.1 279.0,1500.4 279.5,1439.8 280.1,1366.3 281.5,1350.7 283.4,1344.6 285.3,1334.3 287.2,1325.6 289.1,1317.0 291.1,1311.8 293.0,1306.6 294.9,1301.4 296.8,1298.4 302.6,1296.8 312.1,1296.8 321.7,1296.8 331.3,1296.7 340.9,1296.5 350.5,1296.4 360.0,1296.2 369.6,1296.1 379.2,1296.0 388.8,1295.8 398.4,1295.7 408.0,1295.5 417.5,1295.4 427.1,1295.3 436.7,1295.1 446.3,1295.0 455.9,1294.8 465.4,1294.7 475.0,1294.6 484.6,1294.5 494.2,1294.4 503.8,1294.3 513.4,1294.2 522.9,1294.1 532.5,1294.1 542.1,1294.0 551.7,1293.9 561.3,1293.8 570.9,1293.7 580.4,1293.6 590.0,1293.5 599.6,1293.4 609.2,1293.4 618.8,1293.3 628.3,1293.2 637.9,1293.1 647.5,1293.0 657.1,1292.9 666.7,1292.8 676.3,1292.7 685.8,1292.7 695.4,1292.6 705.0,1292.5 714.6,1292.4 724.2,1292.3 733.7,1292.2 743.3,1292.1 752.9,1292.0" fill="none" stroke="#000" stroke-width="3.4" stroke-dasharray="8 4.5" stroke-linejoin="round"/>
<g fill="none" stroke="#1a1a1a" stroke-width="2.4">
<circle cx="278.6" cy="1374.5" r="7.2"/>
<circle cx="278.7" cy="1476.1" r="7.2"/>
<circle cx="279.0" cy="1500.4" r="7.2"/>
<circle cx="279.5" cy="1439.8" r="7.2"/>
<circle cx="280.1" cy="1366.3" r="7.2"/>
<circle cx="281.5" cy="1350.7" r="7.2"/>
<circle cx="283.4" cy="1344.6" r="7.2"/>
<circle cx="285.3" cy="1334.3" r="7.2"/>
<circle cx="287.2" cy="1325.6" r="7.2"/>
<circle cx="289.1" cy="1317.0" r="7.2"/>
<circle cx="291.1" cy="1311.8" r="7.2"/>
<circle cx="293.0" cy="1306.6" r="7.2"/>
<circle cx="294.9" cy="1301.4" r="7.2"/>
<circle cx="296.8" cy="1298.4" r="7.2"/>
<circle cx="302.6" cy="1296.8" r="7.2"/>
<circle cx="312.1" cy="1296.8" r="7.2"/>
<circle cx="321.7" cy="1296.8" r="7.2"/>
<circle cx="331.3" cy="1296.7" r="7.2"/>
<circle cx="340.9" cy="1296.5" r="7.2"/>
<circle cx="350.5" cy="1296.4" r="7.2"/>
<circle cx="360.0" cy="1296.2" r="7.2"/>
<circle cx="369.6" cy="1296.1" r="7.2"/>
<circle cx="379.2" cy="1296.0" r="7.2"/>
<circle cx="388.8" cy="1295.8" r="7.2"/>
<circle cx="398.4" cy="1295.7" r="7.2"/>
<circle cx="408.0" cy="1295.5" r="7.2"/>
<circle cx="417.5" cy="1295.4" r="7.2"/>
<circle cx="427.1" cy="1295.3" r="7.2"/>
<circle cx="436.7" cy="1295.1" r="7.2"/>
<circle cx="446.3" cy="1295.0" r="7.2"/>
<circle cx="455.9" cy="1294.8" r="7.2"/>
<circle cx="465.4" cy="1294.7" r="7.2"/>
<circle cx="475.0" cy="1294.6" r="7.2"/>
<circle cx="484.6" cy="1294.5" r="7.2"/>
<circle cx="494.2" cy="1294.4" r="7.2"/>
<circle cx="503.8" cy="1294.3" r="7.2"/>
<circle cx="513.4" cy="1294.2" r="7.2"/>
<circle cx="522.9" cy="1294.1" r="7.2"/>
<circle cx="532.5" cy="1294.1" r="7.2"/>
<circle cx="542.1" cy="1294.0" r="7.2"/>
<circle cx="551.7" cy="1293.9" r="7.2"/>
<circle cx="561.3" cy="1293.8" r="7.2"/>
<circle cx="570.9" cy="1293.7" r="7.2"/>
<circle cx="580.4" cy="1293.6" r="7.2"/>
<circle cx="590.0" cy="1293.5" r="7.2"/>
<circle cx="599.6" cy="1293.4" r="7.2"/>
<circle cx="609.2" cy="1293.4" r="7.2"/>
<circle cx="618.8" cy="1293.3" r="7.2"/>
<circle cx="628.3" cy="1293.2" r="7.2"/>
<circle cx="637.9" cy="1293.1" r="7.2"/>
<circle cx="647.5" cy="1293.0" r="7.2"/>
<circle cx="657.1" cy="1292.9" r="7.2"/>
<circle cx="666.7" cy="1292.8" r="7.2"/>
<circle cx="676.3" cy="1292.7" r="7.2"/>
<circle cx="685.8" cy="1292.7" r="7.2"/>
<circle cx="695.4" cy="1292.6" r="7.2"/>
<circle cx="705.0" cy="1292.5" r="7.2"/>
<circle cx="714.6" cy="1292.4" r="7.2"/>
<circle cx="724.2" cy="1292.3" r="7.2"/>
<circle cx="733.7" cy="1292.2" r="7.2"/>
<circle cx="743.3" cy="1292.1" r="7.2"/>
<circle cx="752.9" cy="1292.0" r="7.2"/>
</g>
<polyline points="278.6,1379.7 278.7,1476.1 279.0,1497.3 279.5,1439.4 280.1,1366.3 281.5,1350.7 283.4,1344.2 285.3,1334.3 287.2,1325.2 289.1,1316.5 291.1,1311.3 293.0,1305.7 294.9,1300.9 296.8,1297.1 302.6,1295.3 312.1,1295.3 321.7,1295.3 331.3,1295.2 340.9,1295.0 350.5,1294.9 360.0,1294.8 369.6,1294.6 379.2,1294.5 388.8,1294.3 398.4,1294.2 408.0,1294.1 417.5,1293.9 427.1,1293.8 436.7,1293.7 446.3,1293.5 455.9,1293.4 465.4,1293.2 475.0,1293.1 484.6,1293.0 494.2,1292.9 503.8,1292.9 513.4,1292.8 522.9,1292.7 532.5,1292.6 542.1,1292.5 551.7,1292.4 561.3,1292.3 570.9,1292.2 580.4,1292.2 590.0,1292.1 599.6,1292.0 609.2,1291.9 618.8,1291.8 628.3,1291.7 637.9,1291.6 647.5,1291.5 657.1,1291.4 666.7,1291.4 676.3,1291.3 685.8,1291.2 695.4,1291.1 705.0,1291.0 714.6,1290.9 724.2,1290.8 733.7,1290.7 743.3,1290.7 752.9,1290.6" fill="none" stroke="#000" stroke-width="3.4" stroke-linejoin="round"/>
<g fill="#000">
<circle cx="278.6" cy="1379.7" r="8.3"/>
<circle cx="278.7" cy="1476.1" r="8.3"/>
<circle cx="279.0" cy="1497.3" r="8.3"/>
<circle cx="279.5" cy="1439.4" r="8.3"/>
<circle cx="280.1" cy="1366.3" r="8.3"/>
<circle cx="281.5" cy="1350.7" r="8.3"/>
<circle cx="283.4" cy="1344.2" r="8.3"/>
<circle cx="285.3" cy="1334.3" r="8.3"/>
<circle cx="287.2" cy="1325.2" r="8.3"/>
<circle cx="289.1" cy="1316.5" r="8.3"/>
<circle cx="291.1" cy="1311.3" r="8.3"/>
<circle cx="293.0" cy="1305.7" r="8.3"/>
<circle cx="294.9" cy="1300.9" r="8.3"/>
<circle cx="296.8" cy="1297.1" r="8.3"/>
<circle cx="302.6" cy="1295.3" r="8.3"/>
<circle cx="312.1" cy="1295.3" r="8.3"/>
<circle cx="321.7" cy="1295.3" r="8.3"/>
<circle cx="331.3" cy="1295.2" r="8.3"/>
<circle cx="340.9" cy="1295.0" r="8.3"/>
<circle cx="350.5" cy="1294.9" r="8.3"/>
<circle cx="360.0" cy="1294.8" r="8.3"/>
<circle cx="369.6" cy="1294.6" r="8.3"/>
<circle cx="379.2" cy="1294.5" r="8.3"/>
<circle cx="388.8" cy="1294.3" r="8.3"/>
<circle cx="398.4" cy="1294.2" r="8.3"/>
<circle cx="408.0" cy="1294.1" r="8.3"/>
<circle cx="417.5" cy="1293.9" r="8.3"/>
<circle cx="427.1" cy="1293.8" r="8.3"/>
<circle cx="436.7" cy="1293.7" r="8.3"/>
<circle cx="446.3" cy="1293.5" r="8.3"/>
<circle cx="455.9" cy="1293.4" r="8.3"/>
<circle cx="465.4" cy="1293.2" r="8.3"/>
<circle cx="475.0" cy="1293.1" r="8.3"/>
<circle cx="484.6" cy="1293.0" r="8.3"/>
<circle cx="494.2" cy="1292.9" r="8.3"/>
<circle cx="503.8" cy="1292.9" r="8.3"/>
<circle cx="513.4" cy="1292.8" r="8.3"/>
<circle cx="522.9" cy="1292.7" r="8.3"/>
<circle cx="532.5" cy="1292.6" r="8.3"/>
<circle cx="542.1" cy="1292.5" r="8.3"/>
<circle cx="551.7" cy="1292.4" r="8.3"/>
<circle cx="561.3" cy="1292.3" r="8.3"/>
<circle cx="570.9" cy="1292.2" r="8.3"/>
<circle cx="580.4" cy="1292.2" r="8.3"/>
<circle cx="590.0" cy="1292.1" r="8.3"/>
<circle cx="599.6" cy="1292.0" r="8.3"/>
<circle cx="609.2" cy="1291.9" r="8.3"/>
<circle cx="618.8" cy="1291.8" r="8.3"/>
<circle cx="628.3" cy="1291.7" r="8.3"/>
<circle cx="637.9" cy="1291.6" r="8.3"/>
<circle cx="647.5" cy="1291.5" r="8.3"/>
<circle cx="657.1" cy="1291.4" r="8.3"/>
<circle cx="666.7" cy="1291.4" r="8.3"/>
<circle cx="676.3" cy="1291.3" r="8.3"/>
<circle cx="685.8" cy="1291.2" r="8.3"/>
<circle cx="695.4" cy="1291.1" r="8.3"/>
<circle cx="705.0" cy="1291.0" r="8.3"/>
<circle cx="714.6" cy="1290.9" r="8.3"/>
<circle cx="724.2" cy="1290.8" r="8.3"/>
<circle cx="733.7" cy="1290.7" r="8.3"/>
<circle cx="743.3" cy="1290.7" r="8.3"/>
<circle cx="752.9" cy="1290.6" r="8.3"/>
</g>
</g>
</g>
<g id="panel6">
<path d="M1030.8 1234.2V1537.0H1509.6" fill="none" stroke="#bdbdbd" stroke-width="1.9"/>
<text x="1104.59" y="1203.10" font-size="36" fill="#3a3a3a" textLength="240.76" lengthAdjust="spacingAndGlyphs">Cluster 2 (n=6)</text>
<text x="961.05" y="1241.77" font-size="22" fill="#262626" textLength="48.21" lengthAdjust="spacingAndGlyphs" stroke="#262626" stroke-width="0.55">5950</text>
<text x="961.05" y="1285.03" font-size="22" fill="#262626" textLength="48.21" lengthAdjust="spacingAndGlyphs" stroke="#262626" stroke-width="0.55">5900</text>
<text x="961.05" y="1328.28" font-size="22" fill="#262626" textLength="48.21" lengthAdjust="spacingAndGlyphs" stroke="#262626" stroke-width="0.55">5850</text>
<text x="961.05" y="1371.54" font-size="22" fill="#262626" textLength="48.21" lengthAdjust="spacingAndGlyphs" stroke="#262626" stroke-width="0.55">5800</text>
<text x="961.05" y="1414.80" font-size="22" fill="#262626" textLength="48.21" lengthAdjust="spacingAndGlyphs" stroke="#262626" stroke-width="0.55">5750</text>
<text x="961.05" y="1458.05" font-size="22" fill="#262626" textLength="48.21" lengthAdjust="spacingAndGlyphs" stroke="#262626" stroke-width="0.55">5700</text>
<text x="961.05" y="1501.31" font-size="22" fill="#262626" textLength="48.21" lengthAdjust="spacingAndGlyphs" stroke="#262626" stroke-width="0.55">5650</text>
<text x="961.05" y="1544.57" font-size="22" fill="#262626" textLength="48.21" lengthAdjust="spacingAndGlyphs" stroke="#262626" stroke-width="0.55">5600</text>
<text x="1026.09" y="1574.82" font-size="21" fill="#262626" textLength="11.45" lengthAdjust="spacingAndGlyphs" stroke="#262626" stroke-width="0.55">0</text>
<text x="1140.05" y="1574.82" font-size="21" fill="#262626" textLength="22.89" lengthAdjust="spacingAndGlyphs" stroke="#262626" stroke-width="0.55">50</text>
<text x="1253.66" y="1574.82" font-size="21" fill="#262626" textLength="34.34" lengthAdjust="spacingAndGlyphs" stroke="#262626" stroke-width="0.55">100</text>
<text x="1373.36" y="1574.82" font-size="21" fill="#262626" textLength="34.34" lengthAdjust="spacingAndGlyphs" stroke="#262626" stroke-width="0.55">150</text>
<text x="1493.31" y="1574.82" font-size="21" fill="#262626" textLength="34.34" lengthAdjust="spacingAndGlyphs" stroke="#262626" stroke-width="0.55">200</text>
<text x="1103.88" y="1610.50" font-size="23" fill="#585858" textLength="332.51" lengthAdjust="spacingAndGlyphs" stroke="#585858" stroke-width="0.25">distance from sampling point (m)</text>
<text transform="translate(935.40 1462.00) rotate(-90)" x="-1.36" y="0" font-size="21.3" fill="#606060" textLength="223.26" lengthAdjust="spacingAndGlyphs" stroke="#606060" stroke-width="0.3">likelihood function score</text>
<clipPath id="clip5"><rect x="1018.8" y="1222.2" width="491.8" height="326.8"/></clipPath>
<g clip-path="url(#clip5)">
<polyline points="1032.0,1374.8 1033.1,1476.4 1037.3,1500.7 1043.0,1440.1 1051.2,1366.6 1067.9,1351.0 1091.8,1344.9 1115.8,1334.6 1139.7,1325.9 1163.7,1317.3 1187.6,1312.1 1211.5,1306.9 1235.5,1301.7 1259.4,1298.7 1331.2,1297.1 1450.9,1297.1 1570.7,1297.1" fill="none" stroke="#000" stroke-width="3.4" stroke-dasharray="8 4.5" stroke-linejoin="round"/>
<g fill="none" stroke="#1a1a1a" stroke-width="2.4">
<circle cx="1032.0" cy="1374.8" r="7.2"/>
<circle cx="1033.1" cy="1476.4" r="7.2"/>
<circle cx="1037.3" cy="1500.7" r="7.2"/>
<circle cx="1043.0" cy="1440.1" r="7.2"/>
<circle cx="1051.2" cy="1366.6" r="7.2"/>
<circle cx="1067.9" cy="1351.0" r="7.2"/>
<circle cx="1091.8" cy="1344.9" r="7.2"/>
<circle cx="1115.8" cy="1334.6" r="7.2"/>
<circle cx="1139.7" cy="1325.9" r="7.2"/>
<circle cx="1163.7" cy="1317.3" r="7.2"/>
<circle cx="1187.6" cy="1312.1" r="7.2"/>
<circle cx="1211.5" cy="1306.9" r="7.2"/>
<circle cx="1235.5" cy="1301.7" r="7.2"/>
<circle cx="1259.4" cy="1298.7" r="7.2"/>
<circle cx="1331.2" cy="1297.1" r="7.2"/>
<circle cx="1450.9" cy="1297.1" r="7.2"/>
</g>
<polyline points="1032.0,1380.0 1033.1,1476.4 1037.3,1497.6 1043.0,1439.7 1051.2,1366.6 1067.9,1351.0 1091.8,1344.5 1115.8,1334.6 1139.7,1325.5 1163.7,1316.8 1187.6,1311.6 1211.5,1306.0 1235.5,1301.2 1259.4,1297.4 1331.2,1295.6 1450.9,1295.6 1570.7,1295.6" fill="none" stroke="#000" stroke-width="3.4" stroke-linejoin="round"/>
<g fill="#000">
<circle cx="1032.0" cy="1380.0" r="8.3"/>
<circle cx="1033.1" cy="1476.4" r="8.3"/>
<circle cx="1037.3" cy="1497.6" r="8.3"/>
<circle cx="1043.0" cy="1439.7" r="8.3"/>
<circle cx="1051.2" cy="1366.6" r="8.3"/>
<circle cx="1067.9" cy="1351.0" r="8.3"/>
<circle cx="1091.8" cy="1344.5" r="8.3"/>
<circle cx="1115.8" cy="1334.6" r="8.3"/>
<circle cx="1139.7" cy="1325.5" r="8.3"/>
<circle cx="1163.7" cy="1316.8" r="8.3"/>
<circle cx="1187.6" cy="1311.6" r="8.3"/>
<circle cx="1211.5" cy="1306.0" r="8.3"/>
<circle cx="1235.5" cy="1301.2" r="8.3"/>
<circle cx="1259.4" cy="1297.4" r="8.3"/>
<circle cx="1331.2" cy="1295.6" r="8.3"/>
<circle cx="1450.9" cy="1295.6" r="8.3"/>
</g>
</g>
</g>
</g>
<g id="big-axes" fill="none" stroke="#000">
<line x1="93.2" y1="12" x2="93.2" y2="1739.6" stroke-width="10"/>
<line x1="3" y1="1684.5" x2="1612" y2="1684.5" stroke-width="10"/>
<polyline points="67.1,58.8 93.1,14.7 119.1,58.8" stroke-width="11" stroke-linecap="round" stroke-linejoin="miter" stroke-miterlimit="10"/>
<polyline points="1568,1658 1613,1684.5 1568,1711" stroke-width="11" stroke-linecap="round" stroke-linejoin="miter" stroke-miterlimit="10"/>
</g>
<text x="493.88" y="1758.00" font-size="46.8" fill="#0c0c0c" textLength="185.99" lengthAdjust="spacingAndGlyphs" stroke="#0c0c0c" stroke-width="0.8">Distance</text>
<text x="697.24" y="1758.00" font-size="46.8" fill="#0c0c0c" textLength="105.18" lengthAdjust="spacingAndGlyphs" stroke="#0c0c0c" stroke-width="0.8">from</text>
<text x="819.07" y="1758.00" font-size="46.8" fill="#0c0c0c" textLength="155.64" lengthAdjust="spacingAndGlyphs" stroke="#0c0c0c" stroke-width="0.8">sample</text>
<text x="990.83" y="1758.00" font-size="46.8" fill="#0c0c0c" textLength="113.38" lengthAdjust="spacingAndGlyphs" stroke="#0c0c0c" stroke-width="0.8">point</text>
<text x="1120.10" y="1758.00" font-size="46.8" fill="#0c0c0c" textLength="74.87" lengthAdjust="spacingAndGlyphs" stroke="#0c0c0c" stroke-width="0.8">(m)</text>
<text transform="translate(60.20 1110.90) rotate(-90)" x="-3.90" y="0" font-size="50" fill="#0c0c0c" textLength="219.40" lengthAdjust="spacingAndGlyphs" stroke="#0c0c0c" stroke-width="1.0">Likelihood</text>
<text transform="translate(60.20 875.80) rotate(-90)" x="-0.65" y="0" font-size="50" fill="#0c0c0c" textLength="182.31" lengthAdjust="spacingAndGlyphs" stroke="#0c0c0c" stroke-width="1.0">function</text>
<text transform="translate(60.20 675.50) rotate(-90)" x="-1.29" y="0" font-size="50" fill="#0c0c0c" textLength="114.39" lengthAdjust="spacingAndGlyphs" stroke="#0c0c0c" stroke-width="1.0">score</text>
</svg>
</body></html>
